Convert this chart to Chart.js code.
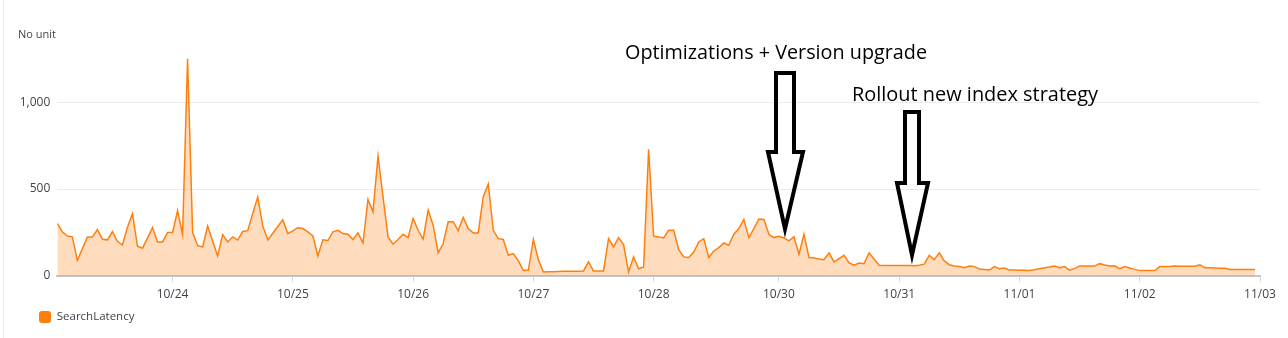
<!DOCTYPE html>
<html>
<head>
<meta charset="utf-8">
<script src="https://cdn.jsdelivr.net/npm/chart.js@4/dist/chart.umd.min.js"></script>
<style>
  body { margin: 0; background: #fff; }
  #wrap { width: 1288px; height: 338px; }
</style>
</head>
<body>
<div id="wrap"><canvas id="plot" width="1288" height="338"></canvas></div>
<script>
// hourly SearchLatency, index = hours since first sample
const searchLatency = [
  302, 254, 230, 225, 90, 157, 224, 224, 267, 211, 208, 256, 200, 178, 281, 358, 171, 160, 218, 279,
  196, 196, 250, 250, 376, 238, 1250, 250, 176, 167, 287, 200, 116, 238, 196, 225, 207, 256, 261, 360,
  455, 288, 207, 246, 285, 323, 244, 260, 278, 273, 254, 230, 115, 208, 204, 254, 263, 244, 240, 210,
  248, 190, 440, 369, 690, 456, 225, 183, 210, 240, 221, 331, 263, 212, 379, 292, 133, 187, 312, 312,
  260, 337, 273, 248, 248, 456, 529, 263, 215, 210, 119, 129, 87, 33, 33, 210, 94, 23, 24, 25,
  26, 27, 27, 28, 28, 29, 81, 29, 29, 29, 215, 167, 221, 181, 23, 110, 42, 52, 729, 229,
  225, 219, 263, 263, 152, 110, 106, 138, 196, 215, 106, 144, 163, 190, 177, 240, 273, 325, 221, 273,
  327, 325, 240, 221, 229, 219, 202, 225, 125, 240, 106, 104, 98, 94, 133, 81, 100, 119, 75, 62,
  75, 71, 133, 96, 62, 61, 61, 60, 60, 60, 60, 59, 62, 68, 119, 94, 133, 87, 65, 58,
  54, 48, 57, 54, 40, 38, 34, 54, 42, 46, 34, 34, 33, 33, 31, 36, 42, 48, 52, 57,
  48, 54, 34, 44, 57, 57, 57, 57, 71, 63, 57, 59, 42, 54, 46, 38, 31, 31, 31, 31,
  54, 54, 54, 57, 56, 56, 56, 56, 65, 48, 47, 46, 45, 44, 38, 38, 38, 38, 38, 38
];

const tickHours = [23, 47, 71, 95, 119, 144, 168, 192, 216, 240];
const tickLabels = ['10/24', '10/25', '10/26', '10/27', '10/28', '10/30', '10/31', '11/01', '11/02', '11/03'];
const yTicks = [0, 500, 1000];

const notes = [
  { text: 'Optimizations + Version upgrade', x: 625, baseline: 59, width: 302 },
  { text: 'Rollout new index strategy', x: 852, baseline: 101, width: 246 }
];

const ORANGE = '#ff7f0e';
const TEXT = '#3f444b';
const FONT = '"Open Sans", "Noto Sans", sans-serif';

// hollow arrow outline: shaft left/right, top, shoulder y, head left/right, tip
function drawArrow(ctx, a) {
  ctx.beginPath();
  ctx.moveTo(a.sl, a.top);
  ctx.lineTo(a.sr, a.top);
  ctx.lineTo(a.sr, a.sh);
  ctx.lineTo(a.hr, a.sh);
  ctx.lineTo(a.tx, a.ty);
  ctx.lineTo(a.hl, a.sh);
  ctx.lineTo(a.sl, a.sh);
  ctx.closePath();
  ctx.stroke();
}

const overlay = {
  id: 'overlay',
  afterLayout(chart) {
    // legend sits indented from the page edge
    chart.legend.left += 29;
  },
  afterDraw(chart) {
    const ctx = chart.ctx;
    ctx.save();
    // page border on the left
    ctx.strokeStyle = '#eaeded';
    ctx.lineWidth = 1;
    ctx.beginPath();
    ctx.moveTo(3.5, 0);
    ctx.lineTo(3.5, 338);
    ctx.stroke();

    ctx.fillStyle = TEXT;
    ctx.font = '11px ' + FONT;
    ctx.textBaseline = 'middle';
    ctx.fillText('No unit', 18, 35);

    ctx.fillStyle = '#000';
    ctx.textBaseline = 'alphabetic';
    ctx.font = '20px ' + FONT;
    notes.forEach(n => {
      const w = ctx.measureText(n.text).width;
      ctx.save();
      ctx.translate(n.x, n.baseline);
      ctx.scale(n.width / w, 1);
      ctx.fillText(n.text, 0, 0);
      ctx.restore();
    });

    ctx.strokeStyle = '#000';
    ctx.lineWidth = 4;
    ctx.lineJoin = 'miter';
    drawArrow(ctx, { sl: 776, sr: 794, top: 73, sh: 152, hl: 768, hr: 803, tx: 785, ty: 229 });
    drawArrow(ctx, { sl: 905, sr: 919, top: 112, sh: 183, hl: 897, hr: 928, tx: 912, ty: 255 });
    ctx.restore();
  }
};

const ctx = document.getElementById('plot');

new Chart(ctx, {
  type: 'line',
  data: {
    datasets: [{
      label: 'SearchLatency',
      data: searchLatency.map((v, i) => ({ x: i, y: v })),
      borderColor: ORANGE,
      backgroundColor: 'rgba(255, 127, 14, 0.27)',
      borderWidth: 1.5,
      pointRadius: 0,
      tension: 0,
      fill: 'origin'
    }]
  },
  options: {
    responsive: false,
    animation: false,
    devicePixelRatio: 1,
    layout: { padding: { left: 0, right: 28, top: 50, bottom: 5 } },
    scales: {
      x: {
        type: 'linear',
        min: 0,
        max: 240,
        afterBuildTicks: axis => { axis.ticks = tickHours.map(v => ({ value: v })); },
        afterFit: axis => { axis.height = 25; },
        grid: { drawOnChartArea: false, drawTicks: true, tickLength: 6, color: '#d5dbdb' },
        border: { color: '#c6c6cd', width: 2 },
        ticks: {
          padding: 5,
          maxRotation: 0,
          autoSkip: false,
          color: TEXT,
          font: { family: FONT, size: 12 },
          callback: v => tickLabels[tickHours.indexOf(v)]
        }
      },
      y: {
        min: 0,
        max: 1300,
        afterBuildTicks: axis => { axis.ticks = yTicks.map(v => ({ value: v })); },
        afterFit: axis => { axis.width = 57.3; },
        grid: { color: '#e9ebed', drawTicks: false },
        border: { display: false },
        ticks: {
          padding: 7,
          color: TEXT,
          font: { family: FONT, size: 12 },
          callback: v => v.toLocaleString('en-US')
        }
      }
    },
    plugins: {
      tooltip: { enabled: false },
      legend: {
        position: 'bottom',
        align: 'start',
        labels: {
          boxWidth: 12,
          boxHeight: 12,
          padding: 10,
          useBorderRadius: true,
          borderRadius: 3,
          color: TEXT,
          font: { family: FONT, size: 11.5 },
          generateLabels: chart => Chart.defaults.plugins.legend.labels.generateLabels(chart)
            .map(l => Object.assign(l, { fillStyle: ORANGE, strokeStyle: ORANGE, lineWidth: 0 }))
        }
      }
    }
  },
  plugins: [overlay]
});

console.log('Finished setting up graph');
</script>
</body>
</html>
